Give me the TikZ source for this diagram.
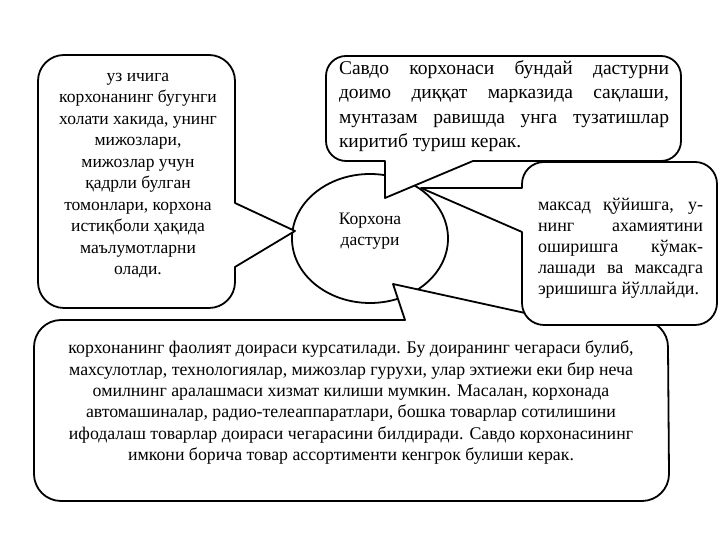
\documentclass[tikz,border=0pt]{standalone}
\usepackage{fontspec}
\setmainfont{Liberation Serif}
\newcommand{\jl}[2]{\makebox[#1][s]{#2}}
\begin{document}
\begin{tikzpicture}[x=1pt,y=1pt,
  shapeline/.style={draw=black,line width=1.8pt,fill=white,line join=round},
  txt/.style={inner sep=0pt,text=black}]
\useasboundingbox (0,0) rectangle (720,540);
\fill[white] (0,0) rectangle (720,540);
% central ellipse
\draw[shapeline] (370,301.5) ellipse [x radius=78, y radius=64.5];
\node[txt,font=\fontsize{17.5}{21}\selectfont,align=center] (prog) at (370,308.5) {Корхона\\дастури};
% left callout
\draw[shapeline] (64,485) -- (209,485) arc[start angle=90,end angle=0,radius=26]
  -- (235,337) -- (295,309) -- (235,273) -- (235,258) arc[start angle=0,end angle=-90,radius=26]
  -- (64,232) arc[start angle=270,end angle=180,radius=26]
  -- (38,459) arc[start angle=180,end angle=90,radius=26] -- cycle;
\node[txt,font=\fontsize{17.5}{21.5}\selectfont,align=center] (lt) at (138,364.3)
 {уз ичига\\корхонанинг бугунги\\холати хакида, унинг\\мижозлари,\\мижозлар учун\\қадрли булган\\томонлари, корхона\\истиқболи ҳақида\\маълумотларни\\олади.};
% bottom callout
\draw[shapeline] (62,220) -- (405,220) -- (393,256) -- (557,220) -- (641,220)
  arc[start angle=90,end angle=0,radius=27] -- (669,66)
  arc[start angle=0,end angle=-90,radius=27] -- (61,39)
  arc[start angle=270,end angle=180,radius=27] -- (34,193)
  arc[start angle=180,end angle=90,radius=27] -- cycle;
\node[txt,font=\fontsize{17.8}{21.4}\selectfont,align=center] (bt) at (351,137.3)
 {корхонанинг фаолият доираси курсатилади. Бу доиранинг чегараси булиб,\\
  махсулотлар, технологиялар, мижозлар гурухи, улар эхтиежи еки бир неча\\
  омилнинг аралашмаси хизмат килиши мумкин. Масалан, корхонада\\
  автомашиналар, радио-телеаппаратлари, бошка товарлар сотилишини\\
  ифодалаш товарлар доираси чегарасини билдиради. Савдо корхонасининг\\
  имкони борича товар ассортименти кенгрок булиши керак.};
% right callout
\draw[shapeline] (544,378) -- (695,378) arc[start angle=90,end angle=0,radius=22]
  -- (717,237) arc[start angle=0,end angle=-90,radius=22]
  -- (544,215) arc[start angle=270,end angle=180,radius=22]
  -- (522,308) -- (421,352) -- (522,352) -- (522,356)
  arc[start angle=180,end angle=90,radius=22] -- cycle;
\node[txt,font=\fontsize{18}{21}\selectfont,align=left] (rt) at (620.5,292)
 {\jl{165pt}{максад қўйишга, у-}\\\jl{165pt}{нинг ахамиятини}\\\jl{165pt}{оширишга кўмак-}\\\jl{165pt}{лашади ва максадга}\\\makebox[165pt][l]{эришишга йўллайди.}};
% top callout
\draw[shapeline] (346,484) -- (661,484) arc[start angle=90,end angle=0,radius=20]
  -- (681,399) arc[start angle=0,end angle=-90,radius=20]
  -- (473,379) -- (385,342) -- (385,379) -- (346,379)
  arc[start angle=270,end angle=180,radius=20]
  -- (326,464) arc[start angle=180,end angle=90,radius=20] -- cycle;
\node[txt,font=\fontsize{19.5}{24.3}\selectfont,align=left] (tp) at (504,434)
 {\jl{330pt}{Савдо корхонаси бундай дастурни}\\\jl{330pt}{доимо диққат марказида сақлаши,}\\\jl{330pt}{мунтазам равишда унга тузатишлар}\\\makebox[330pt][l]{киритиб туриш керак.}};
\end{tikzpicture}
\end{document}
